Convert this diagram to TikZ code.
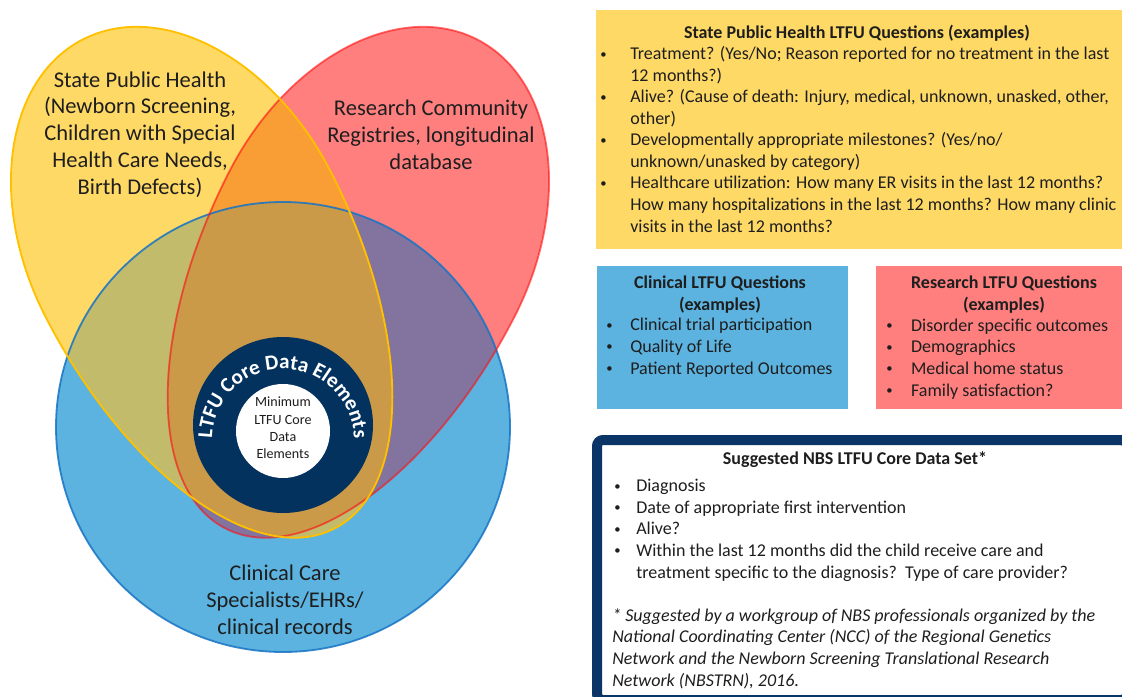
\documentclass[tikz,border=0pt]{standalone}
\usepackage{fontspec}
\setmainfont{Carlito}
\usetikzlibrary{decorations.text}

\definecolor{venyellow}{HTML}{FFD966}
\definecolor{venred}{HTML}{FF7F7F}
\definecolor{venblue}{HTML}{5CB3E0}
\definecolor{venorange}{HTML}{F99D35}
\definecolor{venolive}{HTML}{C2BB6C}
\definecolor{venpurple}{HTML}{82739F}
\definecolor{ventan}{HTML}{CA9A48}
\definecolor{lineyellow}{HTML}{FFC000}
\definecolor{linered}{HTML}{FF1010}
\definecolor{lineblue}{HTML}{1874C4}
\definecolor{corenavy}{HTML}{03325F}
\definecolor{boxnavy}{HTML}{0B3566}
\definecolor{labeltext}{HTML}{1E1E1E}

% egg: broad end on the left, tip on the right
\def\egg{(-230,0) arc [start angle=180, end angle=90, x radius=230, y radius=160]
  arc [start angle=90, end angle=0, x radius=320, y radius=160]
  arc [start angle=0, end angle=-90, x radius=320, y radius=160]
  arc [start angle=-90, end angle=-180, x radius=230, y radius=160] -- cycle}
\def\blueegg{(283,427) ellipse [x radius=227, y radius=225]}

% bullet with its indent
\newcommand{\bul}[1]{\makebox[#1][l]{\raisebox{0.2ex}{\fontsize{9}{9}\selectfont\textbullet}}}

\begin{document}
\begin{tikzpicture}[x=0.025cm,y=-0.025cm,
    yellowset/.style={shift={(188,244)}, rotate=-62.7},
    redset/.style={shift={(372,244)}, rotate=-117.3},
    vlabel/.style={align=center,anchor=base,inner sep=0pt,text=labeltext,
      font=\fontsize{16}{19}\selectfont},
    qtitle/.style={align=center,anchor=base,inner sep=0pt,text=labeltext,
      font=\fontsize{12.8}{15.3}\selectfont\bfseries},
    qlist/.style={align=left,anchor=base west,inner sep=0pt,text=labeltext,
      font=\fontsize{12.8}{15.3}\selectfont}]
  \useasboundingbox (0,0) rectangle (1122,696);
  \clip (0,0) rectangle (1122,696);

  % Venn fills
  \fill[venyellow, yellowset] \egg;
  \fill[venred, redset] \egg;
  \begin{scope}
    \clip[yellowset] \egg;
    \fill[venorange, redset] \egg;
  \end{scope}
  \fill[venblue] \blueegg;
  \begin{scope}
    \clip[yellowset] \egg;
    \fill[venolive] \blueegg;
  \end{scope}
  \begin{scope}
    \clip[redset] \egg;
    \fill[venpurple] \blueegg;
    \clip[yellowset] \egg;
    \fill[ventan] \blueegg;
  \end{scope}

  % outlines
  \draw[lineblue, line width=1.3pt, opacity=.85] \blueegg;
  \draw[linered, line width=1.3pt, opacity=.6, redset] \egg;
  \draw[lineyellow, line width=1.3pt, yellowset] \egg;

  % core circles
  \fill[corenavy] (283,425) ellipse [x radius=90, y radius=88];
  \fill[white] (283,431) circle [radius=47];
  \path[decorate, decoration={text along path, text align=center,
      text color=white,
      text={|\fontsize{15}{18}\selectfont\bfseries|LTFU Core Data Elements}}]
    (283,440) ++(176:71) arc [start angle=176, end angle=364, radius=71];
  \node[align=center, inner sep=0pt, text=labeltext,
    font=\fontsize{10}{12.4}\selectfont] (mincore) at (283,428)
    {Minimum\\LTFU Core\\Data\\Elements};

  % set labels (anchored on their last line)
  \node[vlabel] (sphlabel) at (140,194) {State Public Health\\(Newborn Screening,\\Children with Special\\Health Care Needs,\\Birth Defects)};
  \node[vlabel] (reslabel) at (431,169) {Research Community\\Registries, longitudinal\\database};
  \node[vlabel] (clinlabel) at (285,634) {Clinical Care\\Specialists/EHRs/\\clinical records};

  % question boxes
  \fill[venyellow] (596,10) rectangle (1122,249);
  \fill[venblue] (597,266) rectangle (848,409);
  \fill[venred] (876,266) rectangle (1122,409);
  \filldraw[fill=white, draw=boxnavy, line width=0.25cm, rounded corners=0.15cm]
    (597,440) rectangle (1127,700);

  \node[qtitle] (sphtitle) at (857,39) {State Public Health LTFU Questions (examples)};
  \node[qlist] (sphlist) at (600,232) {\bul{0.75cm}Treatment? (Yes/No; Reason reported for no treatment in the last\\
    \hspace*{0.75cm}12 months?)\\
    \bul{0.75cm}Alive? (Cause of death: Injury, medical, unknown, unasked, other,\\
    \hspace*{0.75cm}other)\\
    \bul{0.75cm}Developmentally appropriate milestones? (Yes/no/\\
    \hspace*{0.75cm}unknown/unasked by category)\\
    \bul{0.75cm}Healthcare utilization: How many ER visits in the last 12 months?\\
    \hspace*{0.75cm}How many hospitalizations in the last 12 months? How many clinic\\
    \hspace*{0.75cm}visits in the last 12 months?};

  \node[qtitle] (clintitle) at (720,310) {Clinical LTFU Questions\\(examples)};
  \node[qlist] (clinlist) at (606,374) {\bul{0.6cm}Clinical trial participation\\
    \bul{0.6cm}Quality of Life\\
    \bul{0.6cm}Patient Reported Outcomes};

  \node[qtitle] (restitle) at (1004,310) {Research LTFU Questions\\(examples)};
  \node[qlist] (reslist) at (886,396) {\bul{0.62cm}Disorder specific outcomes\\
    \bul{0.62cm}Demographics\\
    \bul{0.62cm}Medical home status\\
    \bul{0.62cm}Family satisfaction?};

  \node[qtitle] (coretitle) at (855,464) {Suggested NBS LTFU Core Data Set*};
  \node[qlist] (corelist) at (614,578) {\bul{0.55cm}Diagnosis\\
    \bul{0.55cm}Date of appropriate first intervention\\
    \bul{0.55cm}Alive?\\
    \bul{0.55cm}Within the last 12 months did the child receive care and\\
    \hspace*{0.55cm}treatment specific to the diagnosis?\ \ Type of care provider?};
  \node[qlist, font=\fontsize{12.8}{15.3}\selectfont\itshape] (corenote) at (612,686)
    {* Suggested by a workgroup of NBS professionals organized by the\\
    National Coordinating Center (NCC) of the Regional Genetics\\
    Network and the Newborn Screening Translational Research\\
    Network (NBSTRN), 2016.};
\end{tikzpicture}
\end{document}
